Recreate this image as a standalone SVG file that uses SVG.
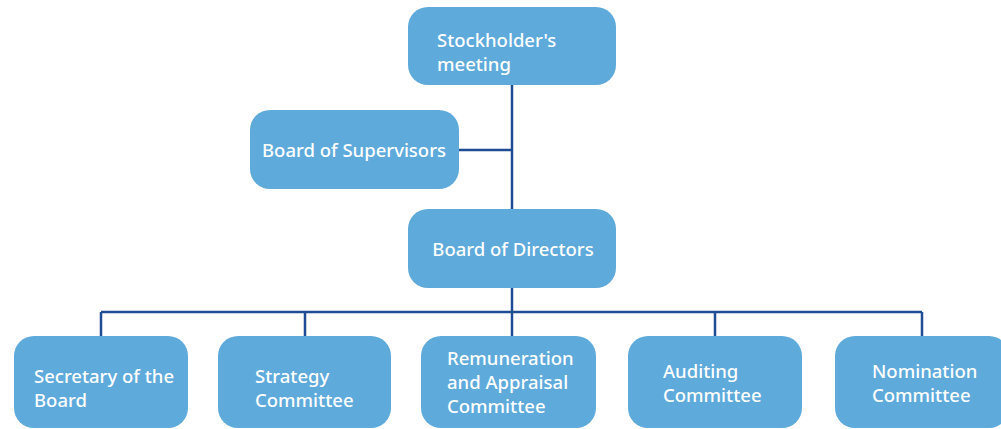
<svg xmlns="http://www.w3.org/2000/svg" width="1001" height="429" viewBox="0 0 1001 429">
<style>
.box{fill:#5EAADB;}
.t{font-family:"Noto Sans","Open Sans",sans-serif;font-size:18.5px;fill:#ffffff;font-weight:500;}
.c{fill:none;stroke:#1E4D94;stroke-width:2.5;}
</style>
<rect width="1001" height="429" fill="#ffffff"/>
<g id="connectors">
<path class="c" d="M512,85 V209 M459,150 H512 M512,288 V312 M101,312 H922 M101,312 V336 M305,312 V336 M512,312 V336 M715,312 V336 M922,312 V336"/>
</g>
<g id="stockholders">
<rect class="box" x="408" y="7" width="208" height="78" rx="20"/>
<text class="t" x="437" y="47">Stockholder's</text>
<text class="t" x="437" y="71">meeting</text>
</g>
<g id="supervisors">
<rect class="box" x="250" y="110" width="209" height="79" rx="20"/>
<text class="t" x="262" y="157">Board of Supervisors</text>
</g>
<g id="directors">
<rect class="box" x="408" y="209" width="208" height="79" rx="20"/>
<text class="t" x="513" y="256" text-anchor="middle">Board of Directors</text>
</g>
<g id="secretary">
<rect class="box" x="14" y="336" width="174" height="92" rx="20"/>
<text class="t" x="34" y="383">Secretary of the</text>
<text class="t" x="34" y="407">Board</text>
</g>
<g id="strategy">
<rect class="box" x="218" y="336" width="173" height="92" rx="20"/>
<text class="t" x="255" y="383">Strategy</text>
<text class="t" x="255" y="407">Committee</text>
</g>
<g id="remuneration">
<rect class="box" x="421" y="336" width="175" height="92" rx="20"/>
<text class="t" x="447" y="365">Remuneration</text>
<text class="t" x="447" y="389">and Appraisal</text>
<text class="t" x="447" y="413">Committee</text>
</g>
<g id="auditing">
<rect class="box" x="628" y="336" width="174" height="92" rx="20"/>
<text class="t" x="663" y="378">Auditing</text>
<text class="t" x="663" y="402">Committee</text>
</g>
<g id="nomination">
<rect class="box" x="835" y="336" width="174" height="92" rx="20"/>
<text class="t" x="872" y="378">Nomination</text>
<text class="t" x="872" y="402">Committee</text>
</g>
</svg>
